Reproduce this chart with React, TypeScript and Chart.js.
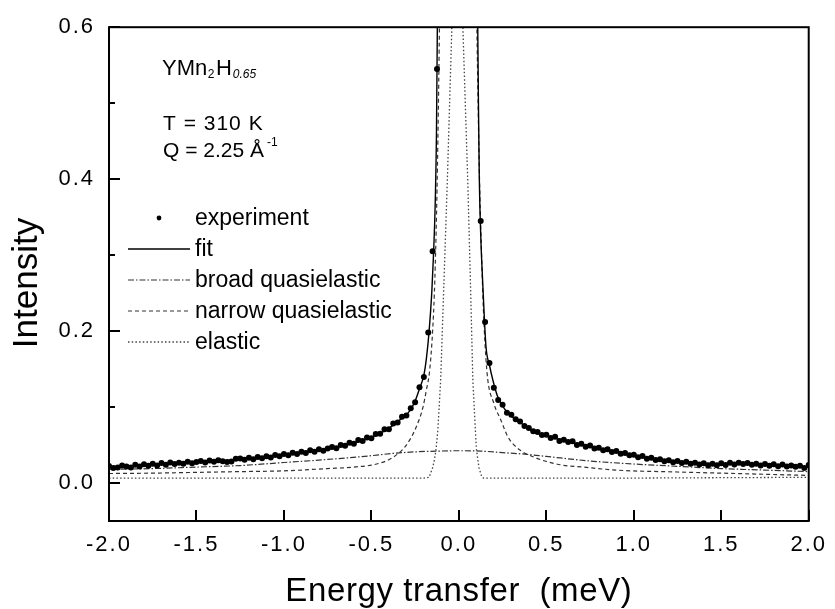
import React, { useEffect, useRef } from "react";
import { Chart, registerables } from "chart.js";

Chart.register(...registerables);

const FONT = '"Liberation Sans", Arial, Helvetica, sans-serif';

const xTickValues = [-2, -1.5, -1, -0.5, 0, 0.5, 1, 1.5, 2];
const yTickValues = [0, 0.2, 0.4, 0.6];
const yMinorTickValues = [0.1, 0.3, 0.5];

const seriesNames = ["experiment", "fit", "broad quasielastic", "narrow quasielastic", "elastic"];
const xAxisTitle = "Energy transfer  (meV)";
const yAxisTitle = "Intensity";
const sampleParts = ["YMn", "2", "H", "0.65"];
const tempLabel = "T = 310 K";
const qLabel = "Q = 2.25 Å";
const qUnitExp = "-1";

const expX = [
  -2, -1.975, -1.95, -1.925, -1.9, -1.875, -1.85, -1.825, -1.8, -1.775,
  -1.75, -1.725, -1.7, -1.675, -1.65, -1.625, -1.6, -1.575, -1.55, -1.525,
  -1.5, -1.475, -1.45, -1.425, -1.4, -1.375, -1.35, -1.325, -1.3, -1.275,
  -1.25, -1.225, -1.2, -1.175, -1.15, -1.125, -1.1, -1.075, -1.05, -1.025,
  -1, -0.975, -0.95, -0.925, -0.9, -0.875, -0.85, -0.825, -0.8, -0.775,
  -0.75, -0.725, -0.7, -0.675, -0.65, -0.625, -0.6, -0.575, -0.55, -0.525,
  -0.5, -0.475, -0.45, -0.425, -0.4, -0.375, -0.35, -0.325, -0.3, -0.275,
  -0.25, -0.225, -0.2, -0.175, -0.15, -0.125, -0.1, -0.075, -0.05, -0.025,
  0, 0.025, 0.05, 0.075, 0.1, 0.125, 0.15, 0.175, 0.2, 0.225,
  0.25, 0.275, 0.3, 0.325, 0.35, 0.375, 0.4, 0.425, 0.45, 0.475,
  0.5, 0.525, 0.55, 0.575, 0.6, 0.625, 0.65, 0.675, 0.7, 0.725,
  0.75, 0.775, 0.8, 0.825, 0.85, 0.875, 0.9, 0.925, 0.95, 0.975,
  1, 1.025, 1.05, 1.075, 1.1, 1.125, 1.15, 1.175, 1.2, 1.225,
  1.25, 1.275, 1.3, 1.325, 1.35, 1.375, 1.4, 1.425, 1.45, 1.475,
  1.5, 1.525, 1.55, 1.575, 1.6, 1.625, 1.65, 1.675, 1.7, 1.725,
  1.75, 1.775, 1.8, 1.825, 1.85, 1.875, 1.9, 1.925, 1.95, 1.975,
  2,
];
const expY = [
  0.0225, 0.0198, 0.0205, 0.0232, 0.0219, 0.0203, 0.0241, 0.0218, 0.0247, 0.0228,
  0.0255, 0.0232, 0.0262, 0.024, 0.0271, 0.0249, 0.0268, 0.0252, 0.0281, 0.0259,
  0.0276, 0.029, 0.0271, 0.0297, 0.028, 0.0301, 0.0288, 0.0278, 0.0284, 0.0318,
  0.0322, 0.0306, 0.0333, 0.0314, 0.0342, 0.0326, 0.0352, 0.0337, 0.037, 0.0352,
  0.0381, 0.0364, 0.0399, 0.0381, 0.0413, 0.0394, 0.043, 0.041, 0.0444, 0.0426,
  0.0455, 0.0474, 0.0457, 0.0499, 0.0489, 0.0531, 0.0518, 0.0565, 0.0552, 0.06,
  0.0589, 0.0646, 0.0648, 0.0708, 0.0707, 0.0782, 0.0796, 0.0872, 0.0888, 0.0985,
  0.1062, 0.1262, 0.1395, 0.198, 0.305, 0.545, 0.95, 1.4, 1.9, 2.2,
  2.2, 1.9, 1.4, 0.95, 0.66, 0.345, 0.212, 0.158, 0.1255, 0.1092,
  0.103, 0.0925, 0.09, 0.0838, 0.081, 0.0752, 0.0725, 0.068, 0.0672, 0.0631,
  0.0636, 0.0593, 0.0608, 0.0553, 0.0571, 0.054, 0.055, 0.05, 0.0516, 0.0478,
  0.0494, 0.0453, 0.0464, 0.043, 0.0443, 0.0408, 0.042, 0.0386, 0.0395, 0.0364,
  0.0373, 0.0339, 0.0355, 0.032, 0.0334, 0.0304, 0.0313, 0.0287, 0.0301, 0.0273,
  0.029, 0.0262, 0.0279, 0.0252, 0.0266, 0.0243, 0.0259, 0.0235, 0.0255, 0.0233,
  0.026, 0.0238, 0.0266, 0.0243, 0.0268, 0.025, 0.0263, 0.024, 0.0254, 0.0229,
  0.0251, 0.0226, 0.0247, 0.0221, 0.0244, 0.0218, 0.0231, 0.0214, 0.0226, 0.0198,
  0.0238,
];

const fitX = [
  -2, -1.75, -1.5, -1.25, -1, -0.9, -0.8, -0.7, -0.6, -0.5, -0.4, -0.35, -0.3,
  -0.275, -0.25, -0.225, -0.2, -0.185, -0.17, -0.155, -0.145, -0.135, -0.128,
  -0.123, -0.115, -0.1, -0.05, -0.008, 0.04, 0.095, 0.103, 0.108, 0.112, 0.117,
  0.126, 0.136, 0.155, 0.175, 0.195, 0.22, 0.26, 0.3, 0.35, 0.4, 0.5, 0.6, 0.7,
  0.8, 0.9, 1, 1.25, 1.5, 1.75, 2,
];
const fitY = [
  0.021, 0.0243, 0.027, 0.031, 0.037, 0.04, 0.043, 0.047, 0.053, 0.06, 0.072,
  0.081, 0.09, 0.097, 0.108, 0.124, 0.142, 0.165, 0.2, 0.25, 0.3, 0.37, 0.46,
  0.6, 0.78, 1.2, 2.5, 3.0, 2.5, 0.95, 0.75, 0.6, 0.5, 0.4, 0.32, 0.266, 0.18,
  0.155, 0.135, 0.115, 0.098, 0.088, 0.08, 0.071, 0.062, 0.056, 0.05, 0.045,
  0.041, 0.036, 0.028, 0.025, 0.024, 0.021,
];

const broadX = [
  -2, -1.75, -1.5, -1.25, -1, -0.75, -0.5, -0.375, -0.25, -0.125, 0, 0.125,
  0.25, 0.375, 0.5, 0.75, 1, 1.25, 1.5, 1.75, 2,
];
const broadY = [
  0.018, 0.019, 0.021, 0.023, 0.027, 0.031, 0.036, 0.039, 0.041, 0.042, 0.0425,
  0.042, 0.04, 0.038, 0.035, 0.029, 0.025, 0.022, 0.019, 0.017, 0.015,
];

const narrowX = [
  -2, -1.75, -1.5, -1.25, -1, -0.75, -0.6, -0.47, -0.375, -0.3, -0.243, -0.205,
  -0.186, -0.167, -0.15, -0.14, -0.13, -0.12, -0.11, -0.1, -0.05, -0.008, 0.04,
  0.09, 0.1, 0.11, 0.12, 0.13, 0.14, 0.16, 0.2, 0.24, 0.28, 0.335, 0.43, 0.58,
  0.71, 0.9, 1.25, 1.5, 1.75, 2,
];
const narrowY = [
  0.0125, 0.013, 0.014, 0.015, 0.016, 0.019, 0.021, 0.025, 0.034, 0.05, 0.074,
  0.1, 0.122, 0.148, 0.2, 0.25, 0.33, 0.45, 0.62, 0.85, 1.6, 2.0, 1.6, 0.85,
  0.65, 0.5, 0.38, 0.3, 0.23, 0.148, 0.105, 0.083, 0.061, 0.046, 0.034, 0.024,
  0.021, 0.017, 0.0145, 0.013, 0.0115, 0.01,
];

const elasticX = [
  -2, -1, -0.5, -0.2, -0.17, -0.15, -0.14, -0.13, -0.12, -0.104, -0.085,
  -0.066, -0.04, -0.008, 0.023, 0.051, 0.066, 0.08, 0.1, 0.115, 0.13, 0.14, 1, 2,
];
const elasticY = [
  0.0065, 0.0065, 0.0065, 0.0065, 0.0075, 0.02, 0.03, 0.045, 0.07, 0.135, 0.266,
  0.397, 0.6, 0.82, 0.6, 0.397, 0.266, 0.135, 0.045, 0.02, 0.009, 0.0065, 0.0065,
  0.0075,
];

const pts = (xs: number[], ys: number[]) => xs.map((x, i) => ({ x, y: ys[i] }));

const decorPlugin = {
  id: "decor",
  beforeDraw(chart: any) {
    // slightly wide tracking for the tick labels, like the original figure
    (chart.ctx as any).letterSpacing = "2px";
  },
  afterDatasetsDraw(chart: any) {
    const { ctx, chartArea: a, scales } = chart;
    const xs = scales.x;
    const ys = scales.y;
    ctx.save();
    (ctx as any).letterSpacing = "0px";
    ctx.setLineDash([]);
    ctx.strokeStyle = "#000";
    ctx.lineWidth = 2;
    ctx.strokeRect(a.left, a.top, a.right - a.left, a.bottom - a.top);
    ctx.beginPath();
    xTickValues.forEach((v) => {
      const px = Math.round(xs.getPixelForValue(v));
      ctx.moveTo(px, a.bottom);
      ctx.lineTo(px, a.bottom - 11);
    });
    yTickValues.forEach((v) => {
      const py = Math.round(ys.getPixelForValue(v));
      ctx.moveTo(a.left, py);
      ctx.lineTo(a.left + 11, py);
    });
    yMinorTickValues.forEach((v) => {
      const py = Math.round(ys.getPixelForValue(v));
      ctx.moveTo(a.left, py);
      ctx.lineTo(a.left + 6, py);
    });
    ctx.stroke();

    // legend
    const rowTop = 218;
    const rowGap = 31;
    chart.data.datasets.forEach((ds: any, i: number) => {
      const y = rowTop + i * rowGap;
      if (ds.showLine === false) {
        ctx.fillStyle = ds.pointBackgroundColor;
        ctx.beginPath();
        ctx.arc(159, y, 2.4, 0, Math.PI * 2);
        ctx.fill();
      } else {
        ctx.strokeStyle = ds.borderColor;
        ctx.lineWidth = ds.borderWidth;
        ctx.setLineDash(ds.borderDash || []);
        ctx.beginPath();
        ctx.moveTo(128, y);
        ctx.lineTo(190, y);
        ctx.stroke();
        ctx.setLineDash([]);
      }
      ctx.fillStyle = "#000";
      ctx.font = `23px ${FONT}`;
      ctx.textAlign = "left";
      ctx.textBaseline = "middle";
      ctx.fillText(ds.label, 195, y + 1);
    });

    // annotations
    ctx.fillStyle = "#000";
    ctx.textAlign = "left";
    ctx.textBaseline = "alphabetic";
    let x = 162;
    ctx.font = `22px ${FONT}`;
    ctx.fillText(sampleParts[0], x, 75);
    x += ctx.measureText(sampleParts[0]).width + 0.5;
    ctx.font = `12px ${FONT}`;
    ctx.fillText(sampleParts[1], x, 78);
    x += ctx.measureText(sampleParts[1]).width + 1.5;
    ctx.font = `22px ${FONT}`;
    ctx.fillText(sampleParts[2], x, 75);
    x += ctx.measureText(sampleParts[2]).width + 1;
    ctx.font = `italic 12px ${FONT}`;
    ctx.fillText(sampleParts[3], x, 78);

    ctx.font = `21px ${FONT}`;
    (ctx as any).letterSpacing = "1px";
    ctx.fillText(tempLabel, 163, 130);
    (ctx as any).letterSpacing = "0px";
    ctx.fillText(qLabel, 163, 157);
    const qw = ctx.measureText(qLabel).width;
    ctx.font = `12px ${FONT}`;
    ctx.fillText(qUnitExp, 163 + qw + 3, 146);

    // x axis title
    ctx.font = `33px ${FONT}`;
    (ctx as any).letterSpacing = "0.6px";
    ctx.textAlign = "center";
    ctx.textBaseline = "alphabetic";
    ctx.fillText(xAxisTitle, (a.left + a.right) / 2, 601);

    // y axis title
    ctx.save();
    ctx.translate(27, 283);
    ctx.rotate(-Math.PI / 2);
    ctx.font = `35px ${FONT}`;
    (ctx as any).letterSpacing = "0px";
    ctx.textAlign = "center";
    ctx.textBaseline = "middle";
    ctx.fillStyle = "#000";
    ctx.fillText(yAxisTitle, 0, 0);
    ctx.restore();

    ctx.restore();
  },
};

export default function App() {
  const canvasRef = useRef<HTMLCanvasElement | null>(null);

  useEffect(() => {
    const canvas = canvasRef.current;
    if (!canvas) return;
    const chart = new Chart(canvas, {
      type: "line",
      data: {
        datasets: [
          {
            label: seriesNames[0],
            data: pts(expX, expY),
            showLine: false,
            pointRadius: 3,
            pointHoverRadius: 3,
            pointStyle: "circle",
            pointBackgroundColor: "#000",
            pointBorderColor: "#000",
            pointBorderWidth: 0,
            borderColor: "#000",
            backgroundColor: "#000",
          },
          {
            label: seriesNames[1],
            data: pts(fitX, fitY),
            borderColor: "#000",
            borderWidth: 1.4,
            pointRadius: 0,
            cubicInterpolationMode: "monotone",
          },
          {
            label: seriesNames[2],
            data: pts(broadX, broadY),
            borderColor: "#333",
            borderWidth: 1.2,
            borderDash: [6, 2, 1.5, 2],
            pointRadius: 0,
            cubicInterpolationMode: "monotone",
          },
          {
            label: seriesNames[3],
            data: pts(narrowX, narrowY),
            borderColor: "#333",
            borderWidth: 1.2,
            borderDash: [4, 3],
            pointRadius: 0,
            cubicInterpolationMode: "monotone",
          },
          {
            label: seriesNames[4],
            data: pts(elasticX, elasticY),
            borderColor: "#444",
            borderWidth: 1.3,
            borderDash: [1.5, 2.2],
            pointRadius: 0,
            tension: 0,
          },
        ] as any,
      },
      options: {
        responsive: true,
        maintainAspectRatio: false,
        animation: false,
        layout: { padding: { top: 25, right: 22, left: 0, bottom: 0 } },
        plugins: { legend: { display: false }, tooltip: { enabled: false } },
        scales: {
          x: {
            type: "linear",
            min: -2,
            max: 2,
            grid: { display: false, drawTicks: false },
            border: { display: false },
            afterBuildTicks: (s: any) => {
              s.ticks = xTickValues.map((v) => ({ value: v }));
            },
            ticks: {
              padding: 11,
              color: "#000",
              autoSkip: false,
              maxRotation: 0,
              font: { family: FONT, size: 22 },
              callback: (v: any) => Number(v).toFixed(1),
            },
            afterFit: (s: any) => {
              s.height = 88;
            },
          },
          y: {
            type: "linear",
            min: -0.05,
            max: 0.6,
            grid: { display: false, drawTicks: false },
            border: { display: false },
            afterBuildTicks: (s: any) => {
              s.ticks = yTickValues.map((v) => ({ value: v }));
            },
            ticks: {
              padding: 14,
              color: "#000",
              font: { family: FONT, size: 22 },
              callback: (v: any) => Number(v).toFixed(1),
            },
            afterFit: (s: any) => {
              s.width = 109;
            },
          },
        },
      } as any,
      plugins: [decorPlugin],
    });
    return () => chart.destroy();
  }, []);

  return (
    <div style={{ position: "fixed", left: 0, top: 0, width: 835, height: 609, background: "#fff" }}>
      <canvas ref={canvasRef} />
    </div>
  );
}
